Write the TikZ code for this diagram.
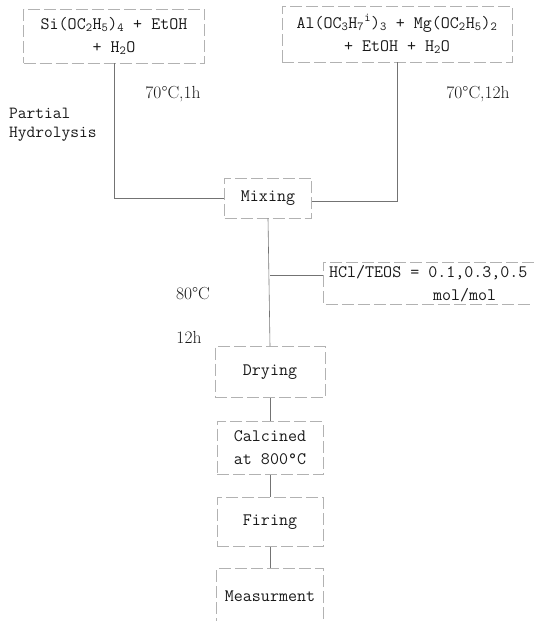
\documentclass[tikz,border=0pt]{standalone}
\usepackage{tikz}
\begin{document}
\begin{tikzpicture}[x=1pt, y=-1pt,
                    box/.style={draw=gray!60, dash pattern=on 12pt off 4pt, line width=0.6pt,
                                text=black!90, font=\fontsize{17.5}{23}\selectfont\ttfamily,
                                align=center, inner sep=0pt},
                    link/.style={draw=black!55, line width=0.6pt},
                    lbl/.style={text=black!90, font=\fontsize{17.5}{20}\selectfont, inner sep=0pt}]
  \useasboundingbox (0,0) rectangle (535,621);
  % starting solutions
  \node[box, minimum width=181, minimum height=54] (si) at (114,36)
    {Si(OC\textsubscript{2}H\textsubscript{5})\textsubscript{4} + EtOH\\+ H\textsubscript{2}O};
  \node[box, minimum width=230, minimum height=56] (al) at (397,34)
    {Al(OC\textsubscript{3}H\textsubscript{7}\textsuperscript{i})\textsubscript{3} + Mg(OC\textsubscript{2}H\textsubscript{5})\textsubscript{2}\\+ EtOH + H\textsubscript{2}O};
  % process steps
  \node[box, minimum width=87, minimum height=40] (mix) at (268,198) {Mixing};
  \node[box, draw=none, anchor=north west, minimum width=210, minimum height=42,
        inner xsep=1pt, align=left] (hcl) at (323,262)
    {HCl/TEOS = 0.1,0.3,0.5\\\hspace*{104pt}mol/mol};
  \node[box, minimum width=110, minimum height=51] (dry) at (270,372) {Drying};
  \node[box, minimum width=106, minimum height=53] (calc) at (270,448) {Calcined\\at 800\textdegree C};
  \node[box, minimum width=106, minimum height=49] (fire) at (270,522) {Firing};
  \node[box, minimum width=107, minimum height=56] (meas) at (270,596) {Measurment};
  % conditions
  \node[lbl] (t1) at (173,94) {70\textdegree C,1h};
  \node[lbl] (t2) at (478,94) {70\textdegree C,12h};
  \node[lbl, font=\fontsize{17}{19}\selectfont\ttfamily, align=left, anchor=west] (ph) at (9,125)
    {Partial\\Hydrolysis};
  \node[lbl] (t3) at (193,294) {80\textdegree C};
  \node[lbl] (t4) at (189,337) {12h};
  % connectors
  \coordinate (br) at (270,275);
  \draw[box] (hcl.north east) -- (hcl.north west) -- (hcl.south west) -- (hcl.south east);
  \draw[link] (si.south) |- (mix.west);
  \draw[link] (al.south) |- ([yshift=-3]mix.east);
  \draw[link] (mix.south) -- (dry.north);
  \draw[link] (br) -- (br -| hcl.west);
  \draw[link] (dry.south) -- (calc.north);
  \draw[link] (calc.south) -- (fire.north);
  \draw[link] (fire.south) -- (meas.north);
\end{tikzpicture}
\end{document}
